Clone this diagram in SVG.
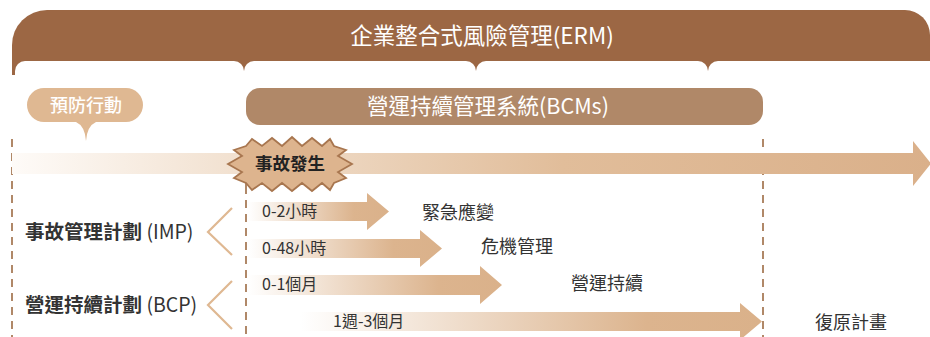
<svg xmlns="http://www.w3.org/2000/svg" width="930" height="337" viewBox="0 0 930 337">
<defs>
<style>
text{font-family:"Noto Sans CJK TC","Noto Sans CJK SC","Noto Sans",sans-serif;}
.w{fill:#ffffff;}
.lbl{font-size:18px;fill:#333333;}
.side{font-size:19.5px;fill:#333333;}
.sm{font-size:16px;fill:#333333;}
.dash{stroke:#b08868;stroke-width:2;stroke-dasharray:8 6;fill:none;}
.chev{stroke:#dfb892;stroke-width:2.2;fill:none;}
</style>
<linearGradient id="gMain" gradientUnits="userSpaceOnUse" x1="12" y1="0" x2="930" y2="0">
<stop offset="0" stop-color="#fefbf8"/>
<stop offset="0.28" stop-color="#f0ddca"/>
<stop offset="0.6" stop-color="#e1bd9a"/>
<stop offset="1" stop-color="#dab08a"/>
</linearGradient>
<linearGradient id="gSmall" x1="0" y1="0" x2="1" y2="0">
<stop offset="0" stop-color="#ffffff"/>
<stop offset="0.75" stop-color="#dcb48e"/>
<stop offset="1" stop-color="#dab18a"/>
</linearGradient>
</defs>

<g id="erm-banner">
<path d="M12,75 L12,45 A35,35 0 0 1 47,10 L905,10 A25,25 0 0 1 930,35 L930,75 Z" fill="#9c6744"/>
<rect x="15" y="61" width="229" height="30" rx="10" fill="#ffffff"/>
<rect x="244" y="61" width="232" height="30" rx="10" fill="#ffffff"/>
<rect x="476" y="61" width="232" height="30" rx="10" fill="#ffffff"/>
<rect x="708" y="61" width="240" height="30" rx="10" fill="#ffffff"/>
<text x="482" y="44" text-anchor="middle" font-size="22.5" class="w">企業整合式風險管理(ERM)</text>
</g>

<g id="prevent">
<path d="M44,88 L126,88 A17,17 0 0 1 126,122 L96,122 Q87,126 86,141 Q85,126 76,122 L44,122 A17,17 0 0 1 44,88 Z" fill="#dfb892"/>
<text x="86" y="112" text-anchor="middle" font-size="18" font-weight="500" class="w">預防行動</text>
</g>

<g id="bcms">
<rect x="246" y="88" width="517" height="37" rx="14" fill="#b08868"/>
<text x="488" y="114" text-anchor="middle" font-size="21.5" class="w">營運持續管理系統(BCMs)</text>
</g>

<g id="connectors">
<line class="dash" x1="12" y1="139" x2="12" y2="337"/>
<line class="dash" x1="763" y1="139" x2="763" y2="337"/>
<line x1="246" y1="183" x2="246" y2="194" stroke="#b08868" stroke-width="2"/>
<line class="dash" x1="246" y1="200" x2="246" y2="337"/>
<path id="main-arrow" d="M12,153 L913,153 L913,141 L931,163.5 L913,186 L913,174 L12,174 Z" fill="url(#gMain)"/>
<polyline class="chev" points="232,208 208,232 232,255"/>
<polyline class="chev" points="232,281 208,305 232,329"/>
</g>

<g id="incident">
<polygon points="246,146 252,139 262,146 272,138 282,146 292,137 302,146 312,138 322,146 330,139 334,146 346,150 338,156 352,164 338,172 346,178 334,183 330,190 322,183 312,191 302,183 292,191 282,183 272,191 262,183 252,190 246,183 234,178 242,172 228,164 242,156 234,150" fill="#ddb48e" stroke="#a8764f" stroke-width="1.8" stroke-linejoin="miter"/>
<text x="290" y="170" text-anchor="middle" font-size="17.5" font-weight="700" fill="#222222">事故發生</text>
</g>

<g id="imp-label">
<text x="25" y="239" class="side"><tspan font-weight="700">事故管理計劃</tspan> (IMP)</text>
</g>
<g id="bcp-label">
<text x="25" y="312" class="side"><tspan font-weight="700">營運持續計劃</tspan> (BCP)</text>
</g>

<g id="arrow-0-2h">
<path d="M248,202 L367,202 L367,193 L389,211.5 L367,230 L367,221 L248,221 Z" fill="url(#gSmall)"/>
<text x="262" y="217" class="sm">0-2小時</text>
</g>
<g id="arrow-0-48h">
<path d="M248,239 L420,239 L420,230 L442,248.5 L420,267 L420,258 L248,258 Z" fill="url(#gSmall)"/>
<text x="262" y="254" class="sm">0-48小時</text>
</g>
<g id="arrow-0-1m">
<path d="M248,275 L480,275 L480,266 L502,285 L480,304 L480,295 L248,295 Z" fill="url(#gSmall)"/>
<text x="262" y="290" class="sm">0-1個月</text>
</g>
<g id="arrow-1w-3m">
<path d="M300,312 L740,312 L740,303 L762,321.5 L740,340 L740,331 L300,331 Z" fill="url(#gSmall)"/>
<text x="333" y="327" class="sm">1週-3個月</text>
</g>

<g id="emergency"><text x="422" y="219" class="lbl">緊急應變</text></g>
<g id="crisis"><text x="481" y="253" class="lbl">危機管理</text></g>
<g id="continuity"><text x="571" y="290" class="lbl">營運持續</text></g>
<g id="recovery"><text x="815" y="329" class="lbl">復原計畫</text></g>
</svg>
